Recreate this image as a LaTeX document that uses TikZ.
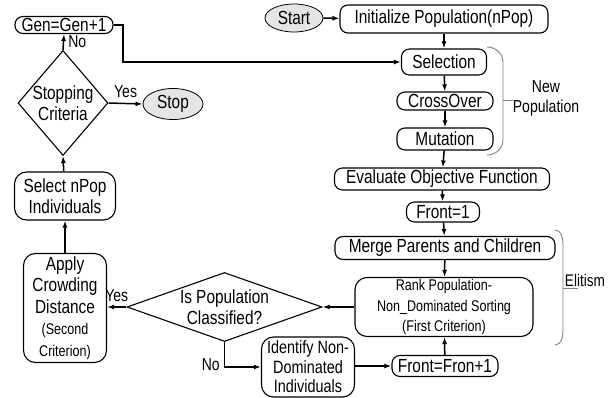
\documentclass[tikz,border=0pt]{standalone}
\usepackage{fontspec}
\setmainfont{Liberation Sans}[FakeStretch=0.81]
\usetikzlibrary{shapes.geometric,arrows.meta}

\begin{document}
\begin{tikzpicture}[
		x=1pt, y=-1pt,
		every node/.style={font=\fontsize{19}{21.5}\selectfont, inner sep=0pt, align=center},
		box/.style={draw, rounded corners=8pt, line width=1.1pt},
		bigbox/.style={box, rounded corners=12pt},
		oval/.style={draw, ellipse, fill=black!10, line width=0.8pt},
		decision/.style={draw, diamond, line width=1.1pt},
		arr/.style={-{Latex[length=7pt,width=5pt]}, line width=1.5pt},
		brace/.style={black!50, line width=0.9pt},
		small/.style={font=\fontsize{15.5}{20.5}\selectfont},
		tag/.style={font=\fontsize{17.3}{19}\selectfont}
		]
		\useasboundingbox (0,0) rectangle (614,398);
		
		\node[oval, minimum width=58pt, minimum height=28pt] (start) at (294,18) {Start};
		\node[box, minimum width=208pt, minimum height=28pt] (init) at (444,19) {Initialize Population(nPop)};
		\node[box, minimum width=85pt, minimum height=26pt] (sel) at (444,62) {Selection};
		\node[box, minimum width=96pt, minimum height=18pt] (cross) at (445,101) {CrossOver};
		\node[box, minimum width=96pt, minimum height=22pt] (mut) at (445,139) {Mutation};
		\node[box, minimum width=215pt, minimum height=22pt] (eval) at (442,179) {Evaluate Objective Function};
		\node[box, minimum width=73pt, minimum height=20pt] (front1) at (443,212) {Front=1};
		\node[box, minimum width=220pt, minimum height=23pt] (merge) at (445,248) {Merge Parents and Children};
		\node[bigbox, small, minimum width=178pt, minimum height=59pt] (rank) at (444,307) {Rank Population-\\Non\_Dominated Sorting\\(First Criterion)};
		\node[bigbox, font=\fontsize{17.8}{19.5}\selectfont, minimum width=93pt, minimum height=60pt] (ident) at (308,367) {Identify Non-\\Dominated\\Individuals};
		\node[box, minimum width=106pt, minimum height=21pt] (frontinc) at (445,366) {Front=Fron+1};
		\node[decision, minimum width=195pt, minimum height=69pt] (classd) at (224.5,307) {};
		\node at (classd) {Is Population\\Classified?};
		\node[bigbox, minimum width=83pt, minimum height=109pt] (crowd) at (65,308) {};
		\node at (crowd) {Apply\\Crowding\\Distance\\{\fontsize{15.5}{21}\selectfont(Second}\\{\fontsize{15.5}{21}\selectfont Criterion)}};
		\node[bigbox, minimum width=101pt, minimum height=48pt] (select) at (65,196) {Select nPop\\Individuals};
		\node[decision, minimum width=90pt, minimum height=105pt] (stopd) at (63,103) {};
		\node at (stopd) {Stopping\\Criteria};
		\node[oval, minimum width=60pt, minimum height=31pt] (stop) at (173,104) {Stop};
		\node[box, minimum width=98pt, minimum height=17pt] (gen) at (64,25) {Gen=Gen+1};
		\coordinate (bend) at (123,62);
		
		\draw[arr] (start) -- (init);
		\draw[arr] (init) -- (sel);
		\draw[arr] (sel) -- (cross);
		\draw[arr] (cross) -- (mut);
		\draw[arr] (mut) -- (eval);
		\draw[arr] (eval) -- (front1);
		\draw[arr] (front1) -- (merge);
		\draw[arr] (merge) -- (rank);
		\draw[arr] (rank.west) -- (classd.east);
		\draw[arr] (classd.west) -- node[tag, above=5pt] {Yes} (crowd.east |- classd.west);
		\draw[arr] (classd.south) |- node[tag, pos=0.45, left=4pt] {No} (ident.west);
		\draw[arr] (ident.east |- frontinc.west) -- (frontinc.west);
		\draw[arr] (frontinc) -- (rank);
		\draw[arr] (crowd) -- (select);
		\draw[arr] (select) -- (stopd.south);
		\draw[arr] (stopd.east) -- node[tag, above=5pt] {Yes} (stop.west);
		\draw[arr] (stopd.north) -- node[tag, right=4pt] {No} (gen.south);
		\draw[arr] (gen.east) -| (bend) -- (sel.west);
		
		\draw[brace] (487,47) to[out=0, in=90] (503,62) -- (503,140) to[out=-90, in=0] (487,155);
		\draw[brace] (503,100) -- (513,100);
		\node[font=\fontsize{17.3}{20}\selectfont] (newpop) at (546,98) {New\\Population};
		\draw[brace] (555,230) to[out=0, in=90] (563,245) -- (563,330) to[out=-90, in=0] (555,345);
		\draw[brace] (563,288) -- (578,288);
		\node[font=\fontsize{16.8}{19}\selectfont] (elit) at (585,280) {Elitism};
	\end{tikzpicture}
\end{document}
